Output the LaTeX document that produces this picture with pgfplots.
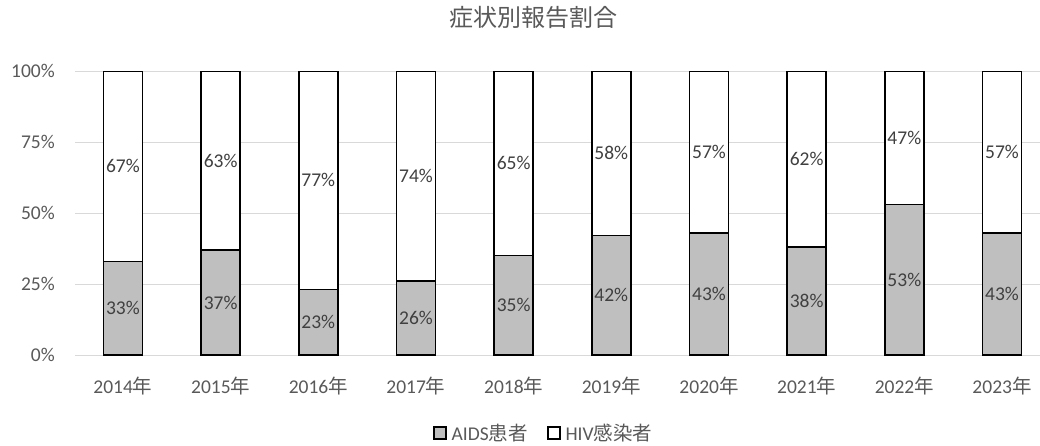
\documentclass[border=0pt]{standalone}
\usepackage{fontspec}
\setmainfont{Carlito}
\newfontfamily\cjk{Noto Sans CJK JP}
\usepackage{pgfplots}
\pgfplotsset{compat=1.18}
\usepackage{pgfplotstable}
\definecolor{aidsgray}{HTML}{BFBFBF}
\definecolor{gridgray}{HTML}{D9D9D9}
\definecolor{ticktext}{HTML}{595959}
\definecolor{labtext}{HTML}{404040}

\pgfplotstableread{
x aids hiv
0 33 67
1 37 63
2 23 77
3 26 74
4 35 65
5 42 58
6 43 57
7 38 62
8 53 47
9 43 57
}\datatable

\pgfplotstableread{
x y label
0 16.5 33\%
1 18.5 37\%
2 11.5 23\%
3 13 26\%
4 17.5 35\%
5 21 42\%
6 21.5 43\%
7 19 38\%
8 26.5 53\%
9 21.5 43\%
0 66.5 67\%
1 68.5 63\%
2 61.5 77\%
3 63 74\%
4 67.5 65\%
5 71 58\%
6 71.5 57\%
7 69 62\%
8 76.5 47\%
9 71.5 57\%
}\labeltable

\pgfplotsset{
  commonaxis/.style={
    at={(75pt,90pt)}, anchor=south west,
    scale only axis,
    width=965pt, height=284pt,
    xmin=-0.491, xmax=9.389,
    ymin=0, ymax=100,
  }
}

\begin{document}
\begin{tikzpicture}
\useasboundingbox (0,0) rectangle (1040pt,445pt);
\begin{axis}[
  commonaxis,
  axis on top=false,
  ybar stacked,
  bar width=0.4,
  axis line style={draw=none},
  ymajorgrids,
  grid style={gridgray, line width=1pt},
  major tick length=0pt,
  xtick={0,...,9},
  xticklabels={2014{\cjk 年},2015{\cjk 年},2016{\cjk 年},2017{\cjk 年},2018{\cjk 年},2019{\cjk 年},2020{\cjk 年},2021{\cjk 年},2022{\cjk 年},2023{\cjk 年}},
  ytick={0,25,50,75,100},
  yticklabels={0\%,25\%,50\%,75\%,100\%},
  xticklabel style={anchor=base, yshift=-38pt, font=\fontsize{19.5}{23}\selectfont, text=ticktext},
  yticklabel style={anchor=east, inner sep=0pt, xshift=-20pt, font=\fontsize{19.5}{23}\selectfont, text=ticktext},
  title={\cjk 症状別報告割合},
  title style={at={(0.4756,1.169)}, anchor=center, font=\fontsize{24}{28}\selectfont, text=ticktext},
  legend columns=2,
  legend style={at={(0.485,-0.275)}, anchor=center, draw=none, fill=none,
    font=\fontsize{19.5}{23}\selectfont, text=ticktext,
    nodes={inner sep=1pt},
    /tikz/every odd column/.append style={column sep=4pt},
    /tikz/every even column/.append style={column sep=18pt},
    inner sep=0pt},
  legend cell align=left,
]
\addplot[fill=aidsgray, draw=black, line width=1.5pt,
  legend image code/.code={\draw[fill=aidsgray, draw=black, line width=1.8pt] (0pt,-6pt) rectangle (12pt,6pt);}]
  table[x=x, y=aids] {\datatable};
\addlegendentry{AIDS{\cjk 患者}}
\addplot[fill=white, draw=black, line width=1.5pt,
  legend image code/.code={\draw[fill=white, draw=black, line width=1.8pt] (0pt,-6pt) rectangle (12pt,6pt);}]
  table[x=x, y=hiv] {\datatable};
\addlegendentry{HIV{\cjk 感染者}}
\end{axis}
\begin{axis}[
  commonaxis,
  hide axis,
]
\addplot[draw=none, mark=none, nodes near coords, point meta=explicit symbolic,
  every node near coord/.style={anchor=center, inner sep=0pt, font=\fontsize{19.5}{23}\selectfont, text=labtext}]
  table[x=x, y=y, meta=label] {\labeltable};
\end{axis}
\end{tikzpicture}
\end{document}
